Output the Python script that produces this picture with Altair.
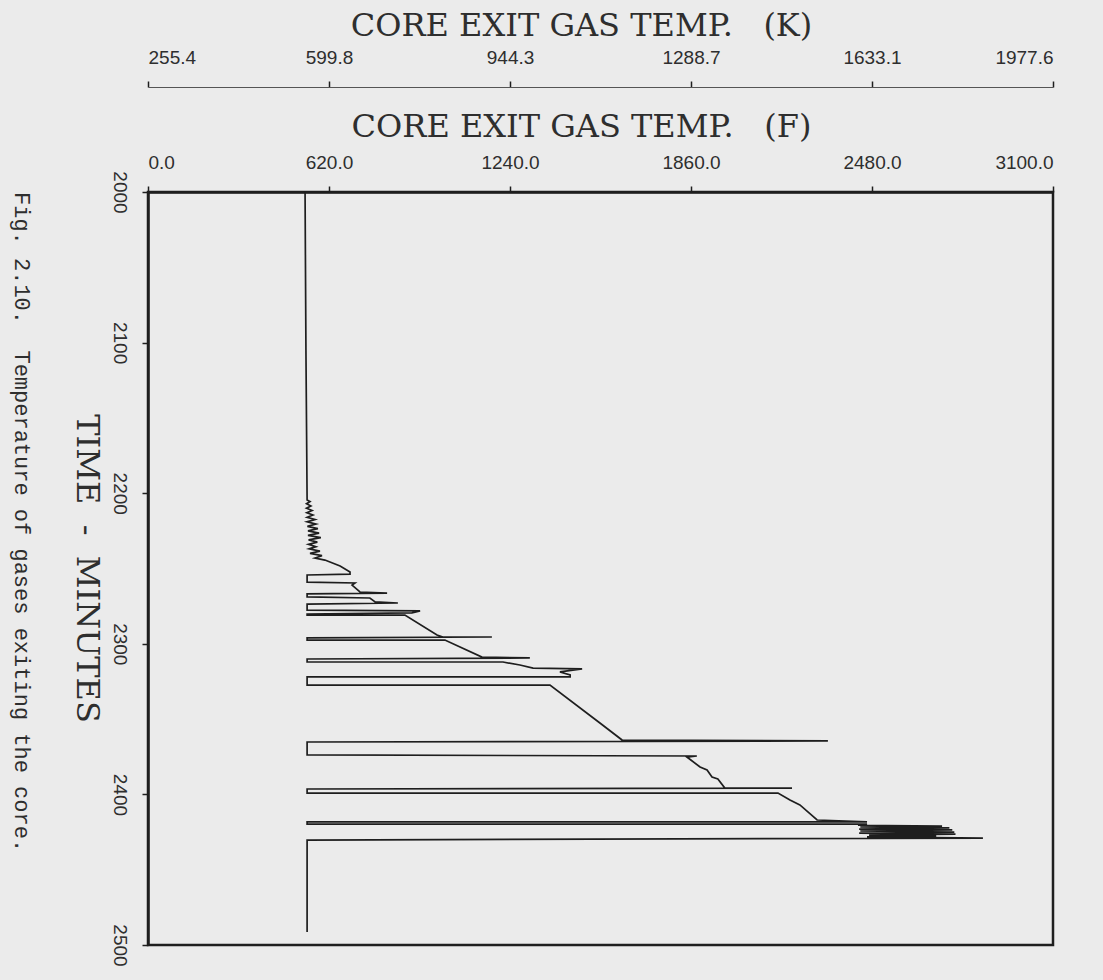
import altair as alt
import pandas as pd

# Trace of the plotter pen, in drawing order (time in minutes, temperature in F)
time_min = [
    2000, 2105, 2204.5,
    2205.5, 2207.0, 2208.5, 2210.0, 2211.5, 2213.0, 2214.5, 2216.0, 2217.5,
    2219.0, 2220.5, 2222.0, 2223.5, 2225.0, 2226.5, 2228.0, 2229.5, 2231.0,
    2232.5, 2234.0, 2235.5, 2237.0, 2238.5, 2240.0, 2241.5, 2243.0,
    2244.4, 2248.3, 2252.3,
    2253.7, 2254.3, 2259.0, 2259.6, 2261.0,
    2265.6,
    2266.3, 2266.9, 2268.9, 2269.6,
    2272.2,
    2272.9, 2273.6, 2277.6, 2278.2, 2279.5,
    2280.2, 2280.9, 2280.9,
    2294.2, 2295.5,
    2295.5, 2296.1, 2297.5, 2297.5,
    2308.8,
    2309.4, 2310.1, 2312.1, 2312.1,
    2314.1, 2316.1, 2316.7, 2318.7, 2320.7,
    2322.0, 2322.0, 2327.4, 2327.4,
    2352.6, 2363.9,
    2364.5, 2365.2, 2373.8, 2374.5, 2375.2,
    2381.8, 2383.8, 2388.4, 2389.8, 2395.8,
    2395.8, 2396.4, 2399.1, 2399.1,
    2403.7, 2407.0, 2417.0,
    2418.3, 2418.3, 2419.7, 2419.7,
    2420.5, 2421.0, 2421.5, 2422.2, 2423.0, 2423.6, 2424.3, 2425.0, 2425.7,
    2426.4, 2427.0, 2427.6, 2428.2,
    2429.0, 2430.3, 2491.4,
]
temp_f = [
    538, 541, 545,
    555, 543, 558, 543, 562, 544, 565, 545, 572,
    545, 575, 546, 582, 548, 586, 548, 592, 550,
    580, 550, 575, 552, 589, 555, 596, 572,
    606, 658, 692,
    692, 545, 545, 709, 699,
    726,
    819, 545, 545, 760,
    778,
    856, 545, 545, 932, 904,
    545, 545, 880,
    990, 1010,
    1178, 545, 545, 1017,
    1144,
    1308, 545, 545, 1216,
    1274, 1319, 1487, 1411, 1446,
    1446, 545, 545, 1377,
    1548, 1624,
    2329, 545, 545, 1880, 1846,
    1891, 1915, 1932, 1952, 1976,
    2206, 545, 545, 2158,
    2199, 2233, 2292,
    2463, 545, 545, 2463,
    2432, 2720, 2440, 2745, 2436, 2755, 2440, 2762, 2436,
    2766, 2470, 2700, 2463,
    2860, 545, 545,
]

f_ticks = [0.0, 620.0, 1240.0, 1860.0, 2480.0, 3100.0]
k_ticks = [255.4, 599.8, 944.3, 1288.7, 1633.1, 1977.6]
t_ticks = [2000, 2100, 2200, 2300, 2400, 2500]

NB = "\u00a0"
title_k = f"CORE EXIT GAS TEMP.{NB}{NB}{NB}(K)"
title_f = f"CORE EXIT GAS TEMP.{NB}{NB}{NB}(F)"
title_t = f"TIME{NB}{NB}-{NB}{NB}MINUTES"
caption = f"Fig. 2.10.{NB}{NB}Temperature of gases exiting the core."

df = pd.DataFrame({"i": list(range(len(time_min))), "t": time_min, "f": temp_f})
kdf = pd.DataFrame({"k": [k_ticks[0], k_ticks[-1]]})

INK = "#1e1e1e"
TXT = "#2e2e2e"
LABEL_FONT = "Liberation Sans"
TITLE_FONT = "DejaVu Serif"

line = alt.Chart(df).mark_line(color=INK, strokeWidth=1.7).encode(
    x=alt.X(
        "f:Q",
        scale=alt.Scale(domain=[0, 3100], nice=False, zero=False),
        axis=alt.Axis(
            orient="top", values=f_ticks, format=".1f", title=title_f,
            titleX=433, titleY=-66, titleBaseline="middle", titleAlign="center",
        ),
    ),
    y=alt.Y(
        "t:Q",
        scale=alt.Scale(domain=[2000, 2500], reverse=True, nice=False, zero=False),
        axis=alt.Axis(
            orient="left", values=t_ticks, format="d", title=title_t,
            labelAngle=90, labelAlign="center", labelBaseline="top",
            titleAngle=90, titleX=-62, titleY=376, titleAlign="center",
            titleBaseline="middle",
        ),
    ),
    order="i:Q",
)

kaxis = alt.Chart(kdf).mark_point(opacity=0).encode(
    x=alt.X(
        "k:Q",
        scale=alt.Scale(domain=[255.4, 1977.6], nice=False, zero=False),
        axis=alt.Axis(
            orient="top", offset=105, values=k_ticks, format=".1f", title=title_k,
            titleX=433, titleY=-62, titleBaseline="middle", titleAlign="center",
            domainWidth=1.2, domainColor="#555555",
        ),
    ),
)

chart = (
    alt.layer(line, kaxis)
    .resolve_scale(x="independent")
    .properties(
        width=905,
        height=753,
        autosize="none",
        padding={"left": 148, "top": 192, "right": 50, "bottom": 35},
        title=alt.TitleParams(
            text=caption, orient="left", angle=90, anchor="end", align="left",
            baseline="top", frame="group", font="Liberation Mono", fontSize=22,
            fontWeight="normal", color=TXT, offset=16,
        ),
    )
    .configure(background="#ebebeb")
    .configure_view(stroke=INK, strokeWidth=2.5, fill="#ebebeb")
    .configure_axis(
        grid=False,
        labelFont=LABEL_FONT, labelFontSize=19, labelColor=TXT, labelPadding=14,
        tickColor=INK, tickWidth=1.5, tickSize=6,
        domainColor=INK, domainWidth=2.5,
        titleFont=TITLE_FONT, titleFontSize=32, titleFontWeight="normal",
        titleColor=TXT,
    )
)

chart.save("out.html", embed_options={"renderer": "svg", "actions": False})
